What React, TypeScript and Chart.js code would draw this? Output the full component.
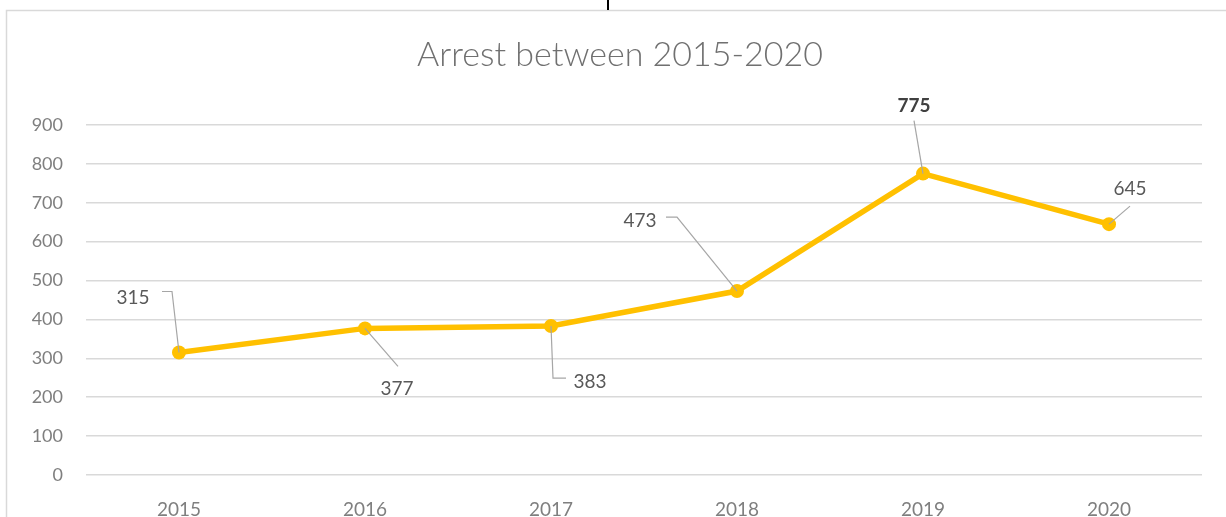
import React, { useEffect, useRef } from "react";
import { Chart, registerables } from "chart.js";

Chart.register(...registerables);

const years = ["2015", "2016", "2017", "2018", "2019", "2020"];
const arrests = [315, 377, 383, 473, 775, 645];
const yMin = 0;
const yMax = 900;
const yStep = 100;
const titleText = "Arrest between 2015-2020";

// label placement (styling): text offset and leader path relative to the point
const labelStyles = [
  { dx: -46, dy: -55, path: [[-17, -61], [-7, -61], [0, 0]], bold: false },
  { dx: 32, dy: 60, path: [[0, 0], [33, 38]], bold: false },
  { dx: 39, dy: 56, path: [[0, 0], [2, 52], [15, 52]], bold: false },
  { dx: -97, dy: -70, path: [[-71, -74], [-60, -74], [0, 0]], bold: false },
  { dx: -9, dy: -68, path: [[-9, -53], [0, 0]], bold: true },
  { dx: 21, dy: -35, path: [[21, -18], [0, 0]], bold: false },
];

const FONT = "Lato, 'Open Sans', sans-serif";

const framePlugin = {
  id: "frame",
  beforeDraw(chart: any) {
    const ctx = chart.ctx;
    ctx.save();
    ctx.fillStyle = "#ffffff";
    ctx.fillRect(0, 0, chart.width, chart.height);
    ctx.strokeStyle = "#d9d9d9";
    ctx.lineWidth = 1.5;
    ctx.beginPath();
    ctx.moveTo(6.5, chart.height);
    ctx.lineTo(6.5, 10.5);
    ctx.lineTo(chart.width, 10.5);
    ctx.stroke();
    ctx.strokeStyle = "#000000";
    ctx.lineWidth = 2;
    ctx.beginPath();
    ctx.moveTo(608, 0);
    ctx.lineTo(608, 10);
    ctx.stroke();
    // title
    ctx.fillStyle = "#707070";
    ctx.font = `300 34px ${FONT}`;
    ctx.textAlign = "center";
    ctx.textBaseline = "middle";
    ctx.fillText(titleText, 620, 55);
    ctx.restore();
  },
};

const labelPlugin = {
  id: "leaderLabels",
  afterDatasetsDraw(chart: any) {
    const ctx = chart.ctx;
    const meta = chart.getDatasetMeta(0);
    ctx.save();
    meta.data.forEach((pt: any, i: number) => {
      const st = labelStyles[i];
      const x = pt.x;
      const y = pt.y;
      ctx.strokeStyle = "#a6a6a6";
      ctx.lineWidth = 1.2;
      ctx.beginPath();
      st.path.forEach((p, j) => {
        if (j === 0) ctx.moveTo(x + p[0], y + p[1]);
        else ctx.lineTo(x + p[0], y + p[1]);
      });
      ctx.stroke();
      ctx.fillStyle = st.bold ? "#404040" : "#595959";
      ctx.font = `${st.bold ? "bold" : "normal"} 19px ${FONT}`;
      ctx.textAlign = "center";
      ctx.textBaseline = "middle";
      ctx.fillText(String(arrests[i]), x + st.dx, y + st.dy);
    });
    ctx.restore();
  },
};

export default function App() {
  const ref = useRef<HTMLCanvasElement | null>(null);

  useEffect(() => {
    document.body.style.margin = "0";
    if (!ref.current) return;
    const chart = new Chart(ref.current, {
      type: "line",
      data: {
        labels: years,
        datasets: [
          {
            data: arrests,
            borderColor: "#FFC000",
            backgroundColor: "#FFC000",
            borderWidth: 5.5,
            pointRadius: 7,
            pointBackgroundColor: "#FFC000",
            pointBorderWidth: 0,
            tension: 0,
          },
        ],
      },
      options: {
        responsive: false,
        animation: false,
        layout: { padding: { left: 0, right: 24, top: 125, bottom: 0 } },
        plugins: {
          legend: { display: false },
          title: { display: false },
          tooltip: { enabled: false },
        },
        scales: {
          x: {
            offset: true,
            grid: { display: false, drawTicks: false },
            border: { display: false },
            ticks: {
              color: "#7f7f7f",
              font: { family: FONT, size: 19 },
              padding: 23,
              maxRotation: 0,
            },
            afterFit(scale: any) {
              scale.height = 42;
            },
          },
          y: {
            min: yMin,
            max: yMax,
            grid: { color: "#d9d9d9", lineWidth: 1.5, drawTicks: false },
            border: { display: false },
            ticks: {
              stepSize: yStep,
              color: "#7f7f7f",
              font: { family: FONT, size: 18 },
              padding: 23,
            },
            afterFit(scale: any) {
              scale.width = 86;
            },
          },
        },
      },
      plugins: [framePlugin, labelPlugin],
    });
    return () => chart.destroy();
  }, []);

  return (
    <div style={{ position: "fixed", left: 0, top: 0, width: 1226, height: 517 }}>
      <canvas ref={ref} width={1226} height={517} />
    </div>
  );
}
